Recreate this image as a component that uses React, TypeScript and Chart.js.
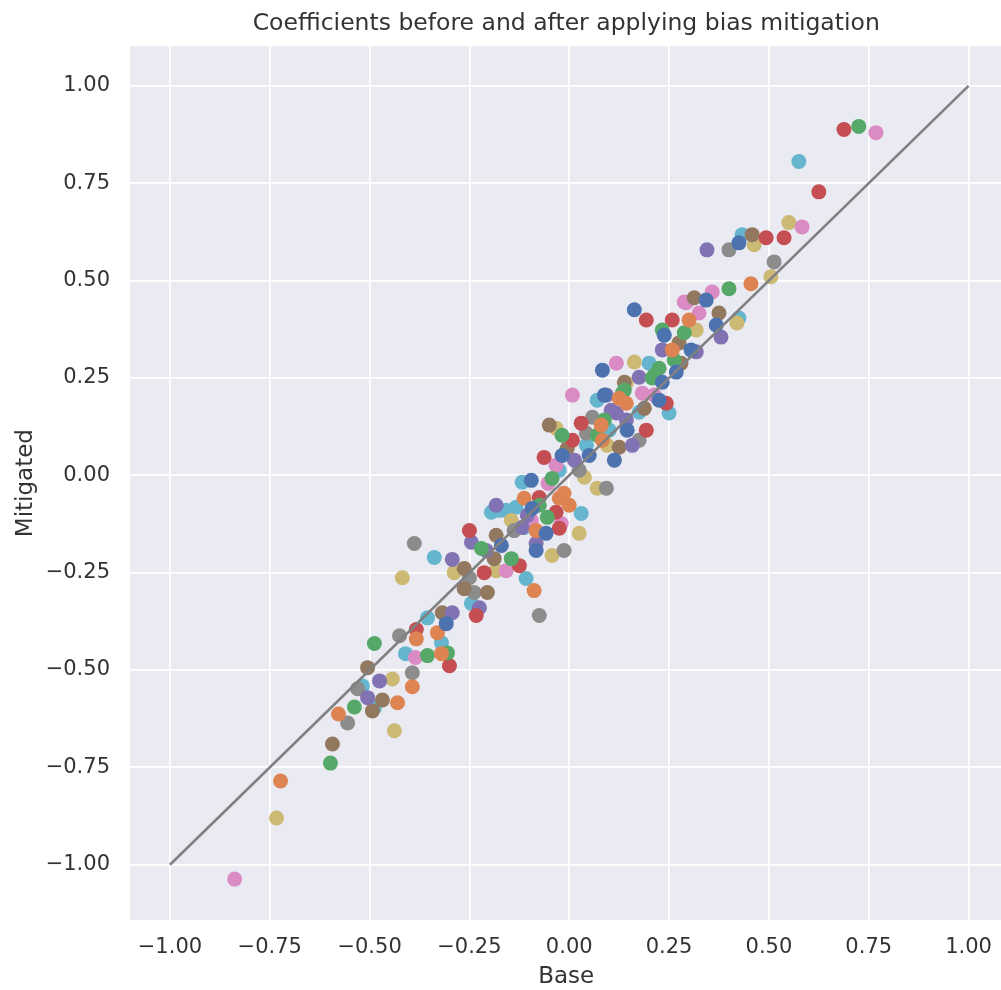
import React, { useEffect, useRef } from "react";
import { Chart, registerables } from "chart.js";

Chart.register(...registerables);

const titleText = "Coefficients before and after applying bias mitigation";
const xLabel = "Base";
const yLabel = "Mitigated";

const xTicks = [-1, -0.75, -0.5, -0.25, 0, 0.25, 0.5, 0.75, 1];
const yTicks = [-1, -0.75, -0.5, -0.25, 0, 0.25, 0.5, 0.75, 1];

const identityLine: [number, number][] = [[-1, -1], [1, 1]];

const palette = ["#4C72B0", "#DD8452", "#55A868", "#C44E52", "#8172B3", "#937860", "#DA8BC3", "#8C8C8C", "#CCB974", "#64B5CD"];

// [base, mitigated] pairs, grouped by colour-cycle series C0..C9
const seriesC0: [number, number][] = [
  [-0.308, -0.381], [-0.018, 0.051], [-0.095, -0.013], [-0.058, -0.149], [0.088, 0.206], [0.113, 0.039],
  [0.145, 0.116], [0.163, 0.425], [0.238, 0.36], [0.305, 0.322], [0.268, 0.265], [0.083, 0.27],
  [0.233, 0.239], [0.225, 0.193], [0.343, 0.45], [0.368, 0.386], [0.425, 0.597], [-0.083, -0.193],
  [-0.093, -0.085], [-0.17, -0.18], [0.05, 0.051],
];
const seriesC1: [number, number][] = [
  [-0.723, -0.785], [-0.578, -0.613], [-0.43, -0.584], [-0.393, -0.543], [-0.383, -0.42], [-0.33, -0.404],
  [-0.32, -0.458], [-0.088, -0.296], [-0.113, -0.059], [-0.025, -0.059], [0.0, -0.077], [0.08, 0.129],
  [-0.013, -0.046], [0.143, 0.185], [0.3, 0.399], [0.258, 0.322], [0.455, 0.492], [-0.083, -0.142],
  [0.083, 0.09], [0.125, 0.198],
];
const seriesC2: [number, number][] = [
  [-0.598, -0.739], [-0.538, -0.595], [-0.488, -0.432], [-0.355, -0.463], [-0.305, -0.456], [-0.22, -0.188],
  [-0.145, -0.214], [-0.055, -0.108], [-0.018, 0.103], [0.07, 0.103], [0.133, 0.211], [0.233, 0.373],
  [0.288, 0.366], [0.263, 0.296], [0.225, 0.275], [0.208, 0.25], [0.138, 0.219], [0.4, 0.479],
  [0.725, 0.896], [0.213, 0.257], [-0.075, -0.077], [-0.043, -0.008], [0.088, 0.142],
];
const seriesC3: [number, number][] = [
  [-0.383, -0.396], [-0.3, -0.489], [-0.25, -0.142], [-0.213, -0.25], [-0.125, -0.232], [-0.233, -0.36],
  [-0.063, 0.046], [-0.075, -0.057], [-0.025, -0.136], [0.03, 0.134], [0.008, 0.09], [0.193, 0.116],
  [0.193, 0.399], [0.258, 0.399], [0.243, 0.185], [0.625, 0.728], [0.493, 0.61], [0.538, 0.61],
  [0.688, 0.888], [-0.033, -0.095],
];
const seriesC4: [number, number][] = [
  [-0.505, -0.571], [-0.475, -0.528], [-0.293, -0.353], [-0.245, -0.172], [-0.293, -0.216], [-0.183, -0.077],
  [-0.225, -0.34], [-0.118, -0.134], [0.118, 0.16], [0.233, 0.322], [0.175, 0.252], [0.093, 0.206],
  [0.345, 0.579], [0.38, 0.355], [0.318, 0.317], [-0.083, -0.175], [0.143, 0.142], [-0.105, -0.103],
  [-0.208, -0.193], [0.013, 0.039], [0.105, 0.167], [0.158, 0.077],
];
const seriesC5: [number, number][] = [
  [-0.593, -0.69], [-0.493, -0.605], [-0.468, -0.577], [-0.505, -0.494], [-0.318, -0.353], [-0.263, -0.239],
  [-0.188, -0.214], [-0.183, -0.154], [-0.263, -0.291], [-0.205, -0.301], [-0.05, 0.129], [0.188, 0.172],
  [0.275, 0.34], [0.28, 0.288], [0.138, 0.239], [0.313, 0.456], [0.375, 0.417], [0.458, 0.618],
  [-0.005, 0.069], [0.125, 0.072],
];
const seriesC6: [number, number][] = [
  [-0.838, -1.037], [-0.385, -0.468], [-0.158, -0.245], [-0.053, -0.021], [-0.095, -0.116], [0.008, 0.206],
  [0.183, 0.211], [0.293, 0.443], [0.325, 0.417], [0.118, 0.288], [0.288, 0.445], [0.358, 0.471],
  [0.583, 0.638], [0.768, 0.88], [-0.02, -0.124], [-0.033, 0.026], [0.213, 0.206],
];
const seriesC7: [number, number][] = [
  [-0.555, -0.636], [-0.53, -0.548], [-0.393, -0.507], [-0.425, -0.412], [-0.388, -0.175], [-0.25, -0.263],
  [-0.238, -0.301], [-0.075, -0.36], [0.058, 0.149], [0.043, 0.108], [0.093, -0.033], [0.175, 0.09],
  [0.4, 0.579], [0.513, 0.548], [-0.013, -0.193], [-0.138, -0.142], [0.025, 0.013],
];
const seriesC8: [number, number][] = [
  [-0.733, -0.88], [-0.443, -0.523], [-0.438, -0.656], [-0.418, -0.263], [-0.288, -0.25], [-0.183, -0.245],
  [-0.145, -0.116], [-0.033, 0.121], [0.095, 0.077], [0.038, -0.005], [0.07, -0.033], [0.318, 0.373],
  [0.163, 0.291], [0.42, 0.391], [0.463, 0.592], [0.55, 0.649], [0.505, 0.51], [-0.043, -0.206],
  [0.025, -0.149], [0.143, 0.237],
];
const seriesC9: [number, number][] = [
  [-0.488, -0.597], [-0.518, -0.541], [-0.355, -0.366], [-0.32, -0.43], [-0.41, -0.458], [-0.338, -0.211],
  [-0.195, -0.095], [-0.158, -0.09], [-0.133, -0.082], [-0.245, -0.329], [-0.108, -0.265], [-0.118, -0.018],
  [0.07, 0.193], [0.043, 0.077], [0.2, 0.288], [0.25, 0.16], [0.425, 0.404], [0.575, 0.806],
  [0.433, 0.618], [0.03, -0.098], [-0.113, -0.134], [-0.175, -0.09], [-0.025, 0.013], [0.1, 0.116],
  [0.175, 0.162],
];

const allSeries = [seriesC0, seriesC1, seriesC2, seriesC3, seriesC4, seriesC5, seriesC6, seriesC7, seriesC8, seriesC9];

const fmt = (v: number) => (v < 0 ? "\u2212" + Math.abs(v).toFixed(2) : v.toFixed(2));

const bgPlugin = {
  id: "plotBg",
  beforeDraw(chart: any) {
    const { ctx, chartArea } = chart;
    if (!chartArea) return;
    ctx.save();
    ctx.fillStyle = "#EAEAF2";
    ctx.fillRect(chartArea.left, chartArea.top, chartArea.right - chartArea.left, chartArea.bottom - chartArea.top);
    ctx.restore();
  },
};

export default function App() {
  const ref = useRef<HTMLCanvasElement | null>(null);
  useEffect(() => {
    if (!ref.current) return;
    const font = "'DejaVu Sans', sans-serif";
    const textColor = "#333333";
    const datasets: any[] = [
      {
        type: "line",
        label: "identity",
        data: identityLine.map(([x, y]) => ({ x, y })),
        borderColor: "#808080",
        borderWidth: 2.6,
        pointRadius: 0,
        fill: false,
      },
      ...allSeries.map((s, i) => ({
        type: "scatter",
        label: "C" + i,
        data: s.map(([x, y]) => ({ x, y })),
        backgroundColor: palette[i],
        borderWidth: 0,
        pointRadius: 7.5,
        pointHoverRadius: 7.5,
      })),
    ];
    const chart = new Chart(ref.current, {
      type: "scatter",
      data: { datasets },
      plugins: [bgPlugin],
      options: {
        responsive: false,
        animation: false,
        layout: { padding: 0 },
        plugins: {
          legend: { display: false },
          tooltip: { enabled: false },
          title: {
            display: true,
            text: titleText,
            fullSize: false,
            color: textColor,
            font: { family: font, size: 23.5, weight: "normal" },
            padding: { top: 10, bottom: 8 },
          },
        },
        scales: {
          x: {
            type: "linear",
            min: -1.1,
            max: 1.085,
            afterFit: (s: any) => {
              s.height = 70;
            },
            afterBuildTicks: (s: any) => {
              s.ticks = xTicks.map((v) => ({ value: v }));
            },
            ticks: {
              color: textColor,
              font: { family: font, size: 21 },
              padding: 15,
              callback: (v: any) => fmt(Number(v)),
            },
            grid: { color: "#FFFFFF", lineWidth: 1.8, drawTicks: false },
            border: { display: false },
            title: {
              display: true,
              text: xLabel,
              color: textColor,
              font: { family: font, size: 23 },
              padding: { top: 0, bottom: -1 },
            },
          },
          y: {
            type: "linear",
            min: -1.142,
            max: 1.102,
            afterFit: (s: any) => {
              s.width = 130;
            },
            afterBuildTicks: (s: any) => {
              s.ticks = yTicks.map((v) => ({ value: v }));
            },
            ticks: {
              color: textColor,
              font: { family: font, size: 21 },
              padding: 20,
              callback: (v: any) => fmt(Number(v)),
            },
            grid: { color: "#FFFFFF", lineWidth: 1.8, drawTicks: false },
            border: { display: false },
            title: {
              display: true,
              text: yLabel,
              color: textColor,
              font: { family: font, size: 23 },
              padding: { top: 12, bottom: 0 },
            },
          },
        },
      },
    } as any);
    return () => chart.destroy();
  }, []);
  return (
    <div style={{ position: "fixed", left: 0, top: 0, width: 1001, height: 990, overflow: "hidden", background: "#FFFFFF" }}>
      <canvas ref={ref} width={1010} height={990} style={{ display: "block", width: 1010, height: 990 }} />
    </div>
  );
}
